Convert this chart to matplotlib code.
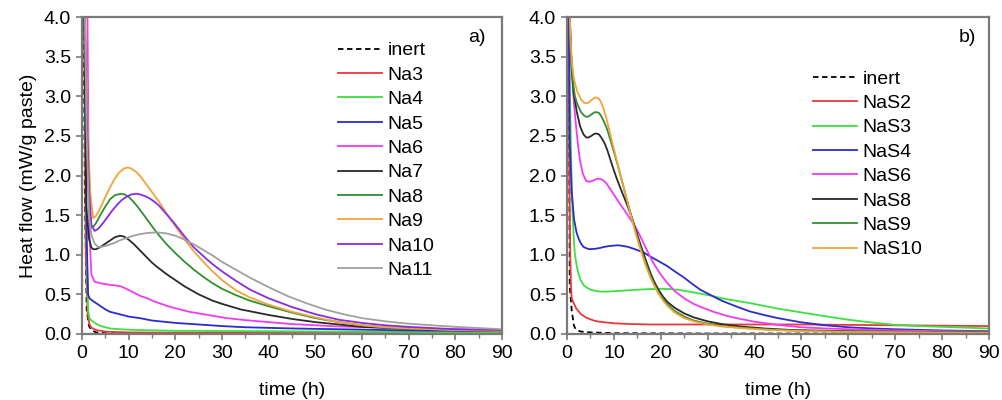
import matplotlib
matplotlib.use("Agg")
import matplotlib.pyplot as plt
from matplotlib.ticker import MultipleLocator

plt.rcParams["font.family"] = ["Liberation Sans", "DejaVu Sans"]

# ---- panel a) : Na series -------------------------------------------
t_inert_a = [0.3, 0.6, 1.0, 1.5, 2.0, 3.0, 5.0, 10.0, 30.0, 90.0]
v_inert_a = [4.5, 1.8, 0.30, 0.10, 0.05, 0.02, 0.01, 0.006, 0.004, 0.003]

t_na3 = [0.4, 0.8, 1.2, 1.6, 2.0, 3.0, 5.0, 10.0, 20.0, 50.0, 90.0]
v_na3 = [4.5, 1.0, 0.25, 0.12, 0.08, 0.05, 0.03, 0.02, 0.015, 0.012, 0.01]

t_na4 = [0.4, 1.0, 1.3, 1.6, 2.0, 3.0, 4.0, 6.0, 8.0, 12.0, 20.0, 40.0, 90.0]
v_na4 = [4.5, 1.0, 0.30, 0.20, 0.17, 0.13, 0.10, 0.07, 0.06, 0.05, 0.04, 0.035, 0.02]

t_na5 = [0.5, 1.0, 1.3, 1.6, 2.0, 3.0, 4.0, 5.0, 6.0, 8.0, 10.0, 12.4, 15.0,
         20.0, 25.0, 30.0, 35.0, 45.0, 55.0, 70.0, 90.0]
v_na5 = [4.5, 1.2, 0.50, 0.45, 0.43, 0.39, 0.35, 0.31, 0.28, 0.25, 0.22, 0.20,
         0.17, 0.14, 0.12, 0.10, 0.085, 0.07, 0.06, 0.045, 0.035]

t_na6 = [1.1, 1.5, 2.0, 2.7, 4.0, 6.0, 7.5, 8.4, 9.5, 10.5, 11.5, 12.5, 14.0,
         15.5, 17.0, 19.0, 21.0, 23.0, 25.0, 28.0, 31.0, 35.0, 40.0, 45.0,
         50.0, 55.0, 65.0, 75.0, 90.0]
v_na6 = [4.5, 1.4, 0.75, 0.66, 0.64, 0.62, 0.61, 0.60, 0.57, 0.54, 0.51, 0.48,
         0.45, 0.41, 0.38, 0.34, 0.31, 0.28, 0.26, 0.23, 0.20, 0.175, 0.15,
         0.125, 0.11, 0.095, 0.08, 0.065, 0.05]

t_na7 = [0.4, 0.9, 1.5, 2.0, 2.4, 3.0, 4.0, 5.0, 6.0, 7.0, 8.1, 9.0, 10.0,
         11.0, 12.0, 13.0, 14.0, 15.0, 16.0, 18.0, 20.0, 22.0, 25.0, 28.0,
         30.0, 34.0, 40.0, 45.0, 50.0, 55.0, 60.0, 70.0, 80.0, 90.0]
v_na7 = [4.5, 1.6, 1.2, 1.09, 1.07, 1.07, 1.10, 1.14, 1.18, 1.22, 1.24, 1.23,
         1.19, 1.14, 1.08, 1.02, 0.96, 0.90, 0.85, 0.76, 0.68, 0.60, 0.50, 0.42,
         0.38, 0.31, 0.24, 0.19, 0.15, 0.12, 0.09, 0.065, 0.05, 0.04]

t_na8 = [0.4, 1.0, 1.5, 2.0, 2.5, 3.0, 4.0, 5.0, 6.0, 7.0, 8.3, 9.2, 10.0,
         11.0, 12.0, 13.0, 14.0, 15.0, 16.0, 17.0, 18.0, 20.0, 22.0, 24.0,
         26.0, 28.0, 30.0, 33.0, 36.0, 40.0, 45.0, 50.0, 55.0, 60.0, 65.0,
         70.0, 80.0, 90.0]
v_na8 = [4.5, 2.6, 1.6, 1.34, 1.36, 1.40, 1.51, 1.61, 1.70, 1.75, 1.77, 1.76,
         1.73, 1.67, 1.60, 1.52, 1.44, 1.36, 1.28, 1.21, 1.14, 1.02, 0.91, 0.81,
         0.72, 0.64, 0.57, 0.49, 0.42, 0.35, 0.27, 0.20, 0.15, 0.11, 0.085,
         0.07, 0.05, 0.04]

t_na9 = [0.5, 1.2, 1.8, 2.4, 3.0, 3.5, 4.0, 5.0, 6.0, 7.0, 8.0, 9.0, 9.7,
         10.5, 11.5, 12.5, 13.5, 14.5, 15.5, 16.5, 18.0, 20.0, 22.0, 24.0,
         26.0, 28.0, 30.0, 33.0, 36.0, 40.0, 45.0, 50.0, 55.0, 60.0, 65.0,
         70.0, 80.0, 90.0]
v_na9 = [4.5, 2.6, 1.75, 1.46, 1.49, 1.54, 1.60, 1.73, 1.85, 1.96, 2.04, 2.09,
         2.10, 2.09, 2.05, 1.99, 1.91, 1.83, 1.75, 1.67, 1.53, 1.36, 1.19, 1.04,
         0.91, 0.79, 0.68, 0.55, 0.46, 0.37, 0.28, 0.21, 0.15, 0.11, 0.085,
         0.07, 0.05, 0.04]

t_na10 = [0.4, 1.0, 1.5, 2.0, 2.7, 3.5, 4.5, 5.5, 6.5, 7.5, 8.5, 9.5, 10.5,
          11.6, 12.5, 13.5, 14.5, 15.5, 16.5, 18.0, 20.0, 22.0, 24.0, 26.6,
          28.0, 30.0, 33.0, 36.0, 40.0, 45.0, 50.0, 55.0, 60.0, 65.0, 70.0,
          80.0, 90.0]
v_na10 = [4.5, 2.8, 1.8, 1.38, 1.30, 1.33, 1.40, 1.48, 1.56, 1.63, 1.69, 1.73,
          1.76, 1.77, 1.76, 1.74, 1.71, 1.67, 1.62, 1.52, 1.38, 1.23, 1.09, 0.95,
          0.88, 0.79, 0.67, 0.56, 0.45, 0.34, 0.25, 0.18, 0.14, 0.11, 0.09,
          0.06, 0.05]

t_na11 = [0.5, 1.0, 1.5, 2.0, 2.7, 3.4, 4.0, 5.0, 6.0, 7.0, 8.0, 9.0, 10.0,
          11.0, 12.0, 13.0, 14.0, 15.3, 16.5, 18.0, 20.0, 22.0, 24.0, 26.0,
          28.0, 30.0, 33.0, 36.0, 40.0, 44.0, 48.0, 52.0, 56.0, 60.0, 65.0,
          70.0, 80.0, 90.0]
v_na11 = [4.5, 2.5, 1.5, 1.25, 1.14, 1.10, 1.10, 1.11, 1.13, 1.15, 1.18, 1.20,
          1.22, 1.24, 1.255, 1.265, 1.275, 1.28, 1.28, 1.27, 1.24, 1.19, 1.13,
          1.06, 0.99, 0.91, 0.81, 0.71, 0.59, 0.48, 0.39, 0.31, 0.25, 0.20,
          0.16, 0.13, 0.09, 0.06]

# ---- panel b) : NaS series ------------------------------------------
t_inert_b = [0.3, 0.6, 1.0, 1.5, 2.0, 3.0, 5.0, 10.0, 30.0, 90.0]
v_inert_b = [4.5, 0.6, 0.30, 0.10, 0.05, 0.03, 0.02, 0.01, 0.006, 0.005]

t_nas2 = [0.3, 0.5, 0.7, 0.85, 1.0, 1.5, 2.0, 3.0, 4.0, 5.0, 6.0, 7.0, 8.5,
          10.0, 13.0, 17.7, 30.0, 50.0, 70.0, 90.0]
v_nas2 = [4.5, 2.0, 1.0, 0.60, 0.45, 0.38, 0.32, 0.25, 0.21, 0.185, 0.165,
          0.155, 0.145, 0.135, 0.127, 0.12, 0.12, 0.12, 0.11, 0.10]

t_nas3 = [0.3, 0.6, 0.8, 1.0, 1.2, 1.5, 1.7, 2.1, 2.5, 3.0, 3.5, 4.2, 5.0,
          6.0, 7.0, 8.5, 10.0, 12.0, 14.0, 16.0, 18.0, 20.0, 22.0, 24.0, 26.0,
          28.4, 31.0, 33.0, 36.0, 39.0, 42.0, 45.0, 49.7, 55.0, 60.0, 65.0,
          70.0, 75.0, 80.0, 90.0]
v_nas3 = [4.5, 3.2, 2.5, 1.9, 1.5, 1.15, 1.0, 0.85, 0.75, 0.67, 0.62, 0.585,
          0.56, 0.545, 0.535, 0.535, 0.54, 0.547, 0.555, 0.562, 0.567, 0.57,
          0.567, 0.555, 0.535, 0.51, 0.48, 0.45, 0.42, 0.39, 0.355, 0.32, 0.275,
          0.225, 0.18, 0.145, 0.115, 0.10, 0.09, 0.07]

t_nas4 = [0.3, 0.6, 1.0, 1.5, 2.0, 2.5, 3.0, 3.5, 4.2, 4.8, 6.0, 7.0, 8.0,
          9.0, 10.9, 12.0, 13.0, 14.5, 16.3, 18.0, 19.5, 21.3, 23.0, 25.0,
          27.0, 28.4, 31.0, 33.0, 36.0, 39.0, 42.0, 45.0, 49.7, 55.0, 60.0,
          65.0, 70.0, 80.0, 90.0]
v_nas4 = [4.5, 2.4, 1.8, 1.45, 1.29, 1.20, 1.14, 1.10, 1.08, 1.07, 1.075,
          1.085, 1.10, 1.11, 1.12, 1.11, 1.10, 1.07, 1.03, 0.97, 0.92, 0.86,
          0.79, 0.71, 0.62, 0.56, 0.48, 0.42, 0.35, 0.285, 0.24, 0.20, 0.15,
          0.11, 0.085, 0.07, 0.06, 0.045, 0.035]

t_nas6 = [0.4, 0.8, 1.3, 1.8, 2.3, 2.8, 3.4, 4.1, 4.8, 5.5, 6.3, 7.0, 7.7,
          8.4, 9.2, 10.0, 11.2, 12.5, 13.5, 14.5, 15.5, 16.3, 17.2, 18.0, 19.0,
          20.0, 21.3, 23.0, 25.0, 27.0, 28.4, 31.0, 34.0, 37.0, 40.0, 45.0,
          50.0, 55.0, 60.0, 70.0, 80.0, 90.0]
v_nas6 = [4.5, 3.6, 3.04, 2.70, 2.41, 2.18, 2.02, 1.93, 1.92, 1.935, 1.955,
          1.96, 1.94, 1.90, 1.83, 1.76, 1.65, 1.54, 1.45, 1.36, 1.25, 1.15,
          1.04, 0.94, 0.84, 0.75, 0.65, 0.54, 0.45, 0.38, 0.345, 0.285, 0.23,
          0.19, 0.155, 0.115, 0.085, 0.07, 0.06, 0.045, 0.035, 0.03]

t_nas8 = [0.4, 0.7, 1.0, 1.4, 2.1, 2.8, 3.5, 4.1, 4.6, 5.2, 5.8, 6.3, 6.8,
          7.3, 8.0, 8.6, 9.2, 9.8, 10.5, 11.2, 12.0, 12.7, 13.4, 14.0, 14.7,
          15.5, 16.3, 17.0, 17.8, 18.6, 19.5, 20.5, 21.5, 23.0, 25.0, 27.0,
          30.0, 33.0, 37.0, 42.0, 48.0, 60.0, 75.0, 90.0]
v_nas8 = [4.5, 3.8, 3.35, 3.05, 2.80, 2.62, 2.52, 2.48, 2.48, 2.50, 2.525,
          2.53, 2.52, 2.48, 2.41, 2.32, 2.21, 2.10, 1.98, 1.87, 1.75, 1.65,
          1.54, 1.44, 1.31, 1.16, 1.02, 0.90, 0.77, 0.66, 0.56, 0.47, 0.40,
          0.33, 0.26, 0.21, 0.16, 0.125, 0.095, 0.07, 0.05, 0.035, 0.025, 0.02]

t_nas9 = [0.4, 0.7, 1.0, 1.4, 1.7, 2.2, 3.0, 3.6, 4.1, 4.6, 5.2, 5.8, 6.3,
          6.8, 7.3, 7.8, 8.4, 9.0, 9.6, 10.5, 11.2, 12.0, 12.7, 13.4, 14.0,
          14.7, 15.5, 16.3, 17.0, 17.8, 18.6, 19.5, 20.5, 21.5, 23.0, 25.0,
          27.0, 30.0, 33.0, 37.0, 42.0, 48.0, 60.0, 75.0, 90.0]
v_nas9 = [4.5, 3.8, 3.4, 3.12, 3.00, 2.90, 2.80, 2.76, 2.74, 2.745, 2.77,
          2.795, 2.80, 2.79, 2.75, 2.69, 2.61, 2.50, 2.38, 2.20, 2.05, 1.87,
          1.71, 1.56, 1.43, 1.28, 1.12, 0.98, 0.86, 0.74, 0.63, 0.53, 0.44,
          0.37, 0.29, 0.22, 0.17, 0.13, 0.10, 0.08, 0.06, 0.045, 0.03, 0.022,
          0.018]

t_nas10 = [0.4, 0.7, 1.0, 1.4, 1.7, 2.2, 3.0, 3.6, 4.1, 4.6, 5.2, 5.8, 6.3,
           6.8, 7.3, 7.8, 8.4, 9.0, 9.6, 10.5, 11.2, 12.0, 12.7, 13.4, 14.0,
           14.7, 15.5, 16.3, 17.0, 17.8, 18.6, 19.5, 20.5, 21.5, 23.0, 25.0,
           27.0, 30.0, 33.0, 37.0, 42.0, 48.0, 60.0, 75.0, 90.0]
v_nas10 = [4.5, 3.8, 3.45, 3.25, 3.16, 3.06, 2.96, 2.92, 2.91, 2.92, 2.95,
           2.98, 2.985, 2.97, 2.92, 2.84, 2.72, 2.58, 2.43, 2.22, 2.05, 1.87,
           1.71, 1.55, 1.41, 1.26, 1.10, 0.95, 0.83, 0.71, 0.61, 0.51, 0.42,
           0.35, 0.27, 0.20, 0.16, 0.12, 0.095, 0.075, 0.055, 0.04, 0.025,
           0.02, 0.015]

red = "#e8393a"
lgreen = "#3ee03e"
blue = "#2b2bd0"
magenta = "#f03cf0"
black = "#2a2a2a"
dgreen = "#2f8f2f"
orange = "#f2a43a"
purple = "#8a2be2"
grey = "#a0a0a0"

series_a = [
    (t_inert_a, v_inert_a, "inert", "black", "--"),
    (t_na3, v_na3, "Na3", red, "-"),
    (t_na4, v_na4, "Na4", lgreen, "-"),
    (t_na5, v_na5, "Na5", blue, "-"),
    (t_na6, v_na6, "Na6", magenta, "-"),
    (t_na7, v_na7, "Na7", black, "-"),
    (t_na8, v_na8, "Na8", dgreen, "-"),
    (t_na9, v_na9, "Na9", orange, "-"),
    (t_na10, v_na10, "Na10", purple, "-"),
    (t_na11, v_na11, "Na11", grey, "-"),
]

series_b = [
    (t_inert_b, v_inert_b, "inert", "black", "--"),
    (t_nas2, v_nas2, "NaS2", red, "-"),
    (t_nas3, v_nas3, "NaS3", lgreen, "-"),
    (t_nas4, v_nas4, "NaS4", blue, "-"),
    (t_nas6, v_nas6, "NaS6", magenta, "-"),
    (t_nas8, v_nas8, "NaS8", black, "-"),
    (t_nas9, v_nas9, "NaS9", dgreen, "-"),
    (t_nas10, v_nas10, "NaS10", orange, "-"),
]

fig = plt.figure(figsize=(10.03, 4.0), dpi=100)
ax_a = fig.add_axes([0.0818, 0.165, 0.4187, 0.7925])
ax_b = fig.add_axes([0.5653, 0.165, 0.4207, 0.7925])

spine_col = "#7a7a7a"


def style_axes(ax):
    ax.set_xlim(0, 90)
    ax.set_ylim(0, 4.0)
    ax.xaxis.set_major_locator(MultipleLocator(10))
    ax.xaxis.set_minor_locator(MultipleLocator(5))
    ax.yaxis.set_major_locator(MultipleLocator(0.5))
    ax.yaxis.set_major_formatter(plt.FormatStrFormatter("%.1f"))
    for sp in ax.spines.values():
        sp.set_color(spine_col)
        sp.set_linewidth(1.6)
    ax.tick_params(which="major", direction="out", length=4, width=1.2,
                   color=spine_col, labelsize=14, pad=4,
                   top=False, right=False)
    ax.tick_params(which="minor", direction="out", length=3, width=1.0,
                   color=spine_col, top=False, right=False)
    ax.set_xlabel("time (h)", fontsize=14, labelpad=14)


for ax, series in ((ax_a, series_a), (ax_b, series_b)):
    for t, v, name, col, ls in series:
        line, = ax.plot(t, v, color=col, lw=1.3, label=name)
        if ls == "--":
            line.set_dashes((3, 2))
    style_axes(ax)

ax_a.set_ylabel("Heat flow (mW/g paste)", fontsize=14, labelpad=5)

ax_a.legend(loc="upper left", bbox_to_anchor=(0.61, 0.922), frameon=False,
            fontsize=14, handlelength=2.25, handletextpad=0.3,
            labelspacing=0.35, borderpad=0, borderaxespad=0)
ax_b.legend(loc="upper left", bbox_to_anchor=(0.583, 0.833), frameon=False,
            fontsize=14, handlelength=2.25, handletextpad=0.3,
            labelspacing=0.35, borderpad=0, borderaxespad=0)

ax_a.text(0.96, 0.935, "a)", transform=ax_a.transAxes, fontsize=14,
          ha="right", va="center")
ax_b.text(0.97, 0.935, "b)", transform=ax_b.transAxes, fontsize=14,
          ha="right", va="center")

fig.savefig("out.png", dpi=100)
